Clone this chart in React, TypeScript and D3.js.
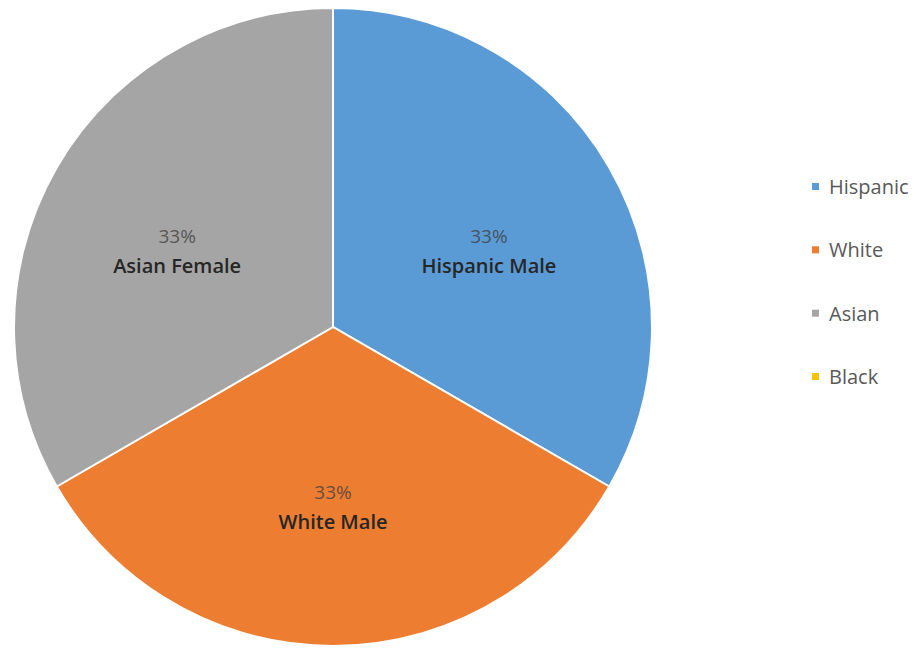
import React from "react";
import * as d3 from "d3";

const categories = ["Hispanic", "White", "Asian", "Black"];
const values = [1, 1, 1, 0];
const sliceLabels = ["Hispanic Male", "White Male", "Asian Female", ""];
const colors = ["#5B9BD5", "#ED7D31", "#A5A5A5", "#FFC000"];

const W = 914;
const H = 652;
const cx = 333;
const cy = 327;
const R = 319;

export default function App() {
  const pie = d3.pie<number>().sort(null).value((d) => d);
  const arcs = pie(values);
  const arcGen = d3.arc<d3.PieArcDatum<number>>().innerRadius(0).outerRadius(R);
  const labelArc = d3.arc<d3.PieArcDatum<number>>().innerRadius(180).outerRadius(180);
  const total = d3.sum(values);
  const fmt = d3.format(".0%");
  const legendY = d3.scalePoint<string>().domain(categories).range([187, 377]);

  return (
    <svg
      width={W}
      height={H}
      style={{ position: "absolute", left: 0, top: 0, fontFamily: "'Open Sans', 'Liberation Sans', sans-serif" }}
    >
      <rect width={W} height={H} fill="#ffffff" />
      <g transform={`translate(${cx},${cy})`}>
        {arcs.map((a, i) =>
          a.value > 0 ? (
            <path key={i} d={arcGen(a) || ""} fill={colors[i]} stroke="#ffffff" strokeWidth={2} />
          ) : null
        )}
        {arcs.map((a, i) => {
          if (a.value <= 0) return null;
          const [lx, ly] = labelArc.centroid(a);
          const mid = (a.startAngle + a.endAngle) / 2;
          const y = ly + 9.3 + 9.3 * Math.cos(mid);
          return (
            <g key={"l" + i}>
              <text x={lx} y={y - 15} dy="0.35em" textAnchor="middle" fontSize={19} fill="#404040" fillOpacity={0.8}>
                {fmt(a.value / total)}
              </text>
              <text x={lx} y={y + 15} dy="0.35em" textAnchor="middle" fontSize={20} fontWeight={600} fill="#262626">
                {sliceLabels[i]}
              </text>
            </g>
          );
        })}
      </g>
      <g>
        {categories.map((c, i) => (
          <g key={c} transform={`translate(812,${legendY(c)})`}>
            <rect x={0} y={-4} width={7} height={7} fill={colors[i]} />
            <text x={17} y={0} dy="0.35em" fontSize={20} fill="#595959">
              {c}
            </text>
          </g>
        ))}
      </g>
    </svg>
  );
}
